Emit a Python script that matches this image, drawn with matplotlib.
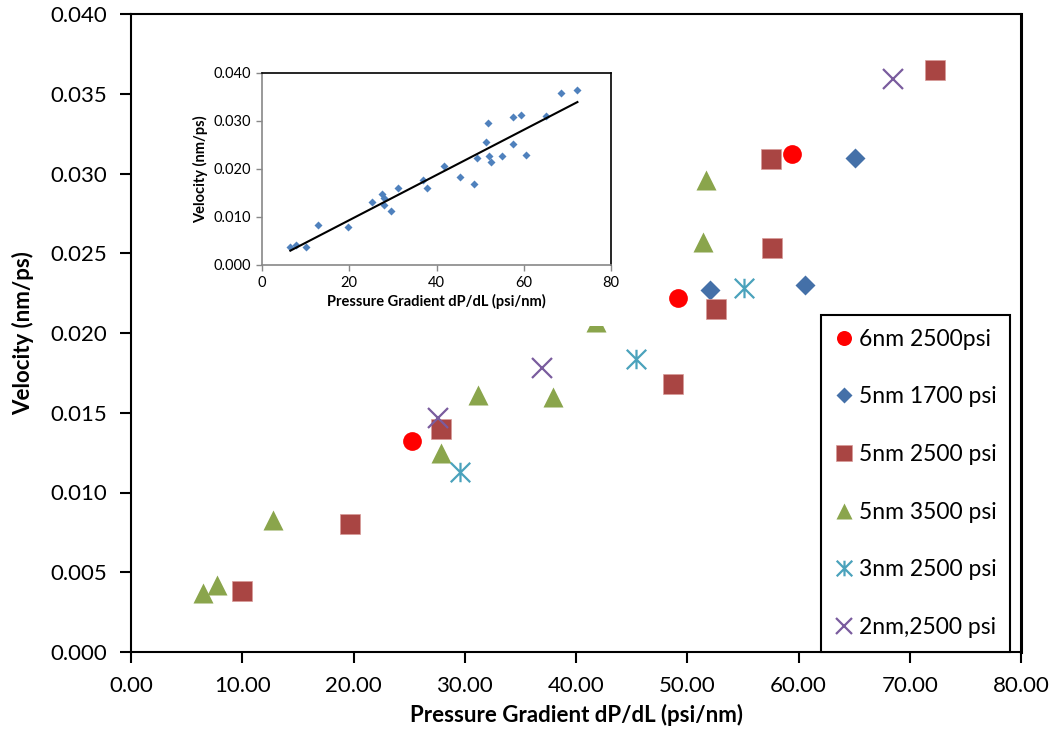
import numpy as np
import matplotlib
matplotlib.use('Agg')
import matplotlib.pyplot as plt
from matplotlib.path import Path
from matplotlib.patches import Rectangle

plt.rcParams['font.family'] = ['Lato', 'DejaVu Sans']

# velocity vs pressure gradient for each pore size / pressure case
x_6nm_2500 = [25.3, 49.2, 59.4]
v_6nm_2500 = [0.0132, 0.0222, 0.0312]

x_5nm_1700 = [52.0, 60.6, 65.1]
v_5nm_1700 = [0.0227, 0.0230, 0.0310]

x_5nm_2500 = [10.0, 19.7, 27.9, 48.7, 52.6, 57.6, 57.5, 72.3]
v_5nm_2500 = [0.0038, 0.0080, 0.0140, 0.0168, 0.0215, 0.0253, 0.0309, 0.0365]

x_5nm_3500 = [6.5, 7.7, 12.8, 27.9, 31.2, 37.9, 41.8, 51.4, 51.7]
v_5nm_3500 = [0.0037, 0.0042, 0.0083, 0.0125, 0.0161, 0.0160, 0.0207, 0.0257, 0.0296]

x_3nm_2500 = [29.6, 45.4, 55.1]
v_3nm_2500 = [0.0113, 0.0184, 0.0228]

x_2nm_2500 = [27.6, 36.9, 68.5]
v_2nm_2500 = [0.0147, 0.0178, 0.0359]

# excel-style asterisk: vertical bar plus an x
asterisk = Path([(0, -1), (0, 1), (-1, -1), (1, 1), (-1, 1), (1, -1)],
                [Path.MOVETO, Path.LINETO, Path.MOVETO, Path.LINETO, Path.MOVETO, Path.LINETO])

fig = plt.figure(figsize=(10.55, 7.38), dpi=100)
ax = fig.add_axes([131/1055, 1-652/738, 890/1055, 638/738])

ax.plot(x_6nm_2500, v_6nm_2500, 'o', color='#FF0000', ms=13.5, mec='none', label='6nm 2500psi')
ax.plot(x_5nm_1700, v_5nm_1700, 'D', color='#4470A8', ms=10, mec='none', label='5nm 1700 psi')
ax.plot(x_5nm_2500, v_5nm_2500, 's', color='#A94543', ms=14, mec='#D89A98', mew=0.5, label='5nm 2500 psi')
ax.plot(x_5nm_3500, v_5nm_3500, '^', color='#8AA54C', ms=15, mec='none', label='5nm 3500 psi')
ax.plot(x_3nm_2500, v_3nm_2500, ls='none', marker=asterisk, color='#4AA2BC', ms=14, mew=1.6, label='3nm 2500 psi')
ax.plot(x_2nm_2500, v_2nm_2500, 'x', color='#7A5C9E', ms=14, mew=1.6, label='2nm,2500 psi')

ax.set_xlim(0, 80)
ax.set_ylim(0, 0.040)
ax.set_xticks(np.arange(0, 81, 10))
ax.set_yticks(np.arange(0, 0.0401, 0.005))
ax.xaxis.set_major_formatter(plt.FormatStrFormatter('%.2f'))
ax.yaxis.set_major_formatter(plt.FormatStrFormatter('%.3f'))
ax.tick_params(direction='out', length=8, width=1.5, labelsize=16, pad=9)
for s in ax.spines.values():
    s.set_linewidth(1.5)
ax.spines['right'].set_linewidth(2.2)
ax.set_xlabel('Pressure Gradient dP/dL (psi/nm)', fontsize=16, fontweight='bold', labelpad=6)
ax.set_ylabel('Velocity (nm/ps)', fontsize=16, fontweight='bold', labelpad=12)

leg = ax.legend(loc='upper left', bbox_to_anchor=(821/1055, 1-315/738), bbox_transform=fig.transFigure,
                fontsize=16.5, frameon=True, fancybox=False, edgecolor='black', framealpha=1,
                labelspacing=1.6, handlelength=0.8, handletextpad=0.25, borderpad=0.6,
                borderaxespad=0, markerscale=0.8)
leg.get_frame().set_linewidth(1.5)

# inset: all points together with a linear trend line
x_all = np.concatenate([x_6nm_2500, x_5nm_1700, x_5nm_2500, x_5nm_3500, x_3nm_2500, x_2nm_2500])
v_all = np.concatenate([v_6nm_2500, v_5nm_1700, v_5nm_2500, v_5nm_3500, v_3nm_2500, v_2nm_2500])
slope, icpt = np.polyfit(x_all, v_all, 1)
xf = np.array([x_all.min(), x_all.max()])

fig.patches.append(Rectangle((163/1055, 1-326/738), 462/1055, 271/738, transform=fig.transFigure,
                             facecolor='white', edgecolor='none', zorder=1))
ins = fig.add_axes([262/1055, 1-265/738, 349/1055, 192/738], zorder=2)
ins.plot(x_all, v_all, 'D', color='#4F81BD', ms=4, mec='none')
ins.plot(xf, slope*xf + icpt, color='black', lw=1.5)
ins.set_xlim(0, 80)
ins.set_ylim(0, 0.040)
ins.set_xticks(np.arange(0, 81, 20))
ins.set_yticks(np.arange(0, 0.0401, 0.010))
ins.yaxis.set_major_formatter(plt.FormatStrFormatter('%.3f'))
ins.tick_params(direction='out', length=4, width=1, color='#888888', labelsize=10.5, pad=4)
ins.spines['left'].set_color('#888888')
ins.spines['bottom'].set_color('#888888')
for s in ins.spines.values():
    s.set_linewidth(1.2)
ins.set_xlabel('Pressure Gradient dP/dL (psi/nm)', fontsize=10.5, fontweight='bold', labelpad=3)
ins.set_ylabel('Velocity (nm/ps)', fontsize=10.5, fontweight='bold', labelpad=4)

fig.savefig('out.png', dpi=100)
